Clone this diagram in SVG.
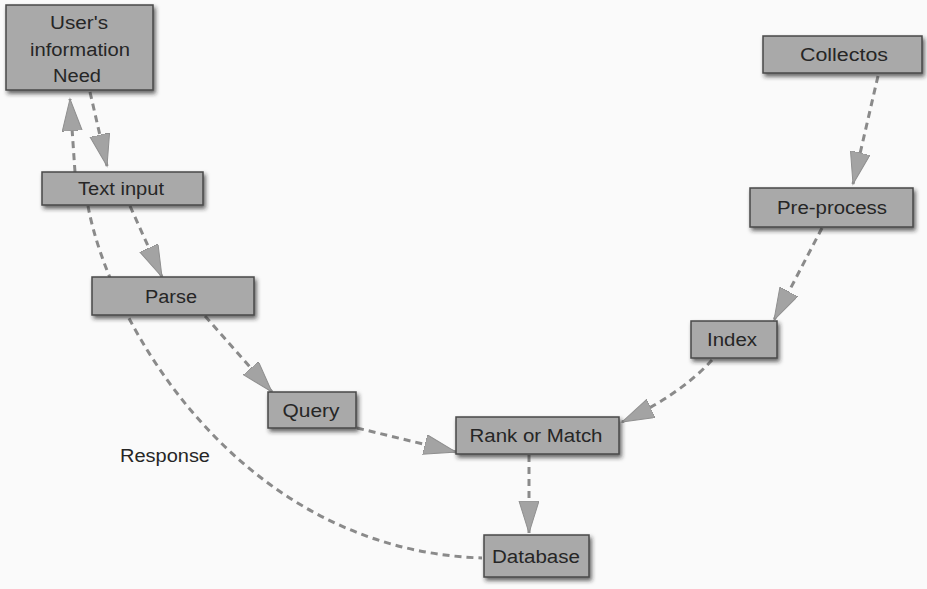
<svg xmlns="http://www.w3.org/2000/svg" width="927" height="589" viewBox="0 0 927 589">
<style>
.box{fill:#a9a9a9;stroke:#4a4a4a;stroke-width:1.5;filter:url(#sh)}
.lbl{font-family:"Liberation Sans",Arial,sans-serif;font-size:18px;fill:#262626;text-anchor:middle}
.con{fill:none;stroke:#8a8a8a;stroke-width:3;stroke-dasharray:7 5}
</style>
<defs>
<filter id="sh" x="-20%" y="-30%" width="140%" height="170%">
<feDropShadow dx="2" dy="3" stdDeviation="2" flood-color="#222" flood-opacity="0.7"/>
</filter>
<marker id="ah" markerUnits="userSpaceOnUse" markerWidth="34" markerHeight="22" refX="32" refY="10" orient="auto">
<path d="M0,0 L32,10 L0,20 z" fill="#a3a3a3" stroke="#8f8f8f" stroke-width="1"/>
</marker>
</defs>
<rect width="927" height="589" fill="#fafafa"/>
<g id="connectors">
<path class="con" d="M88,206 C110,325 240,550 482,558"/>
<path class="con" d="M75,172 L70,99" marker-end="url(#ah)"/>
<path class="con" d="M90,92 L107,166" marker-end="url(#ah)"/>
<path class="con" d="M130,206 L162,277" marker-end="url(#ah)"/>
<path class="con" d="M205,316 L272,392" marker-end="url(#ah)"/>
<path class="con" d="M357,428 L456,452" marker-end="url(#ah)"/>
<path class="con" d="M712,360 Q680,395 622,422" marker-end="url(#ah)"/>
<path class="con" d="M529,455 L529,533" marker-end="url(#ah)"/>
<path class="con" d="M878,76 L853,184" marker-end="url(#ah)"/>
<path class="con" d="M822,228 L774,320" marker-end="url(#ah)"/>
</g>
<g id="need">
<rect class="box" x="6" y="5" width="147" height="85"/>
<text class="lbl" x="79" y="29" textLength="58" lengthAdjust="spacingAndGlyphs">User's</text>
<text class="lbl" x="80" y="56" textLength="100" lengthAdjust="spacingAndGlyphs">information</text>
<text class="lbl" x="77" y="82" textLength="48" lengthAdjust="spacingAndGlyphs">Need</text>
</g>
<g id="textinput">
<rect class="box" x="42" y="172" width="161" height="33"/>
<text class="lbl" x="121" y="195" textLength="86" lengthAdjust="spacingAndGlyphs">Text input</text>
</g>
<g id="parse">
<rect class="box" x="92" y="277" width="162" height="38"/>
<text class="lbl" x="171" y="303" textLength="52" lengthAdjust="spacingAndGlyphs">Parse</text>
</g>
<g id="query">
<rect class="box" x="268" y="392" width="88" height="36"/>
<text class="lbl" x="311" y="417" textLength="57" lengthAdjust="spacingAndGlyphs">Query</text>
</g>
<g id="rank">
<rect class="box" x="456" y="417" width="163" height="37"/>
<text class="lbl" x="536" y="442" textLength="133" lengthAdjust="spacingAndGlyphs">Rank or Match</text>
</g>
<g id="database">
<rect class="box" x="484" y="535" width="105" height="42"/>
<text class="lbl" x="536" y="563" textLength="88" lengthAdjust="spacingAndGlyphs">Database</text>
</g>
<g id="index">
<rect class="box" x="691" y="321" width="86" height="37"/>
<text class="lbl" x="732" y="346" textLength="50" lengthAdjust="spacingAndGlyphs">Index</text>
</g>
<g id="preprocess">
<rect class="box" x="750" y="188" width="163" height="39"/>
<text class="lbl" x="832" y="214" textLength="110" lengthAdjust="spacingAndGlyphs">Pre-process</text>
</g>
<g id="collectos">
<rect class="box" x="763" y="36" width="159" height="37"/>
<text class="lbl" x="844" y="61" textLength="88" lengthAdjust="spacingAndGlyphs">Collectos</text>
</g>
<g id="response">
<text class="lbl" x="165" y="462" textLength="90" lengthAdjust="spacingAndGlyphs">Response</text>
</g>
</svg>
